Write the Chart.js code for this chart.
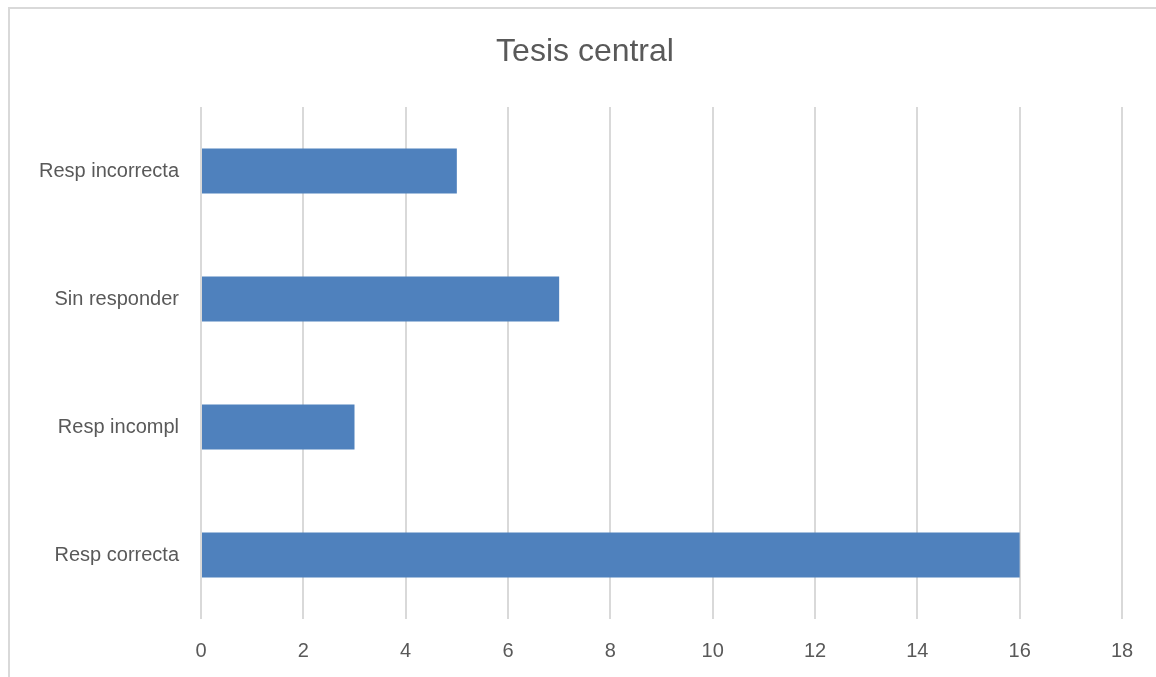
<!DOCTYPE html>
<html>
<head>
<meta charset="utf-8">
<title>Tesis central</title>
<script src="https://cdn.jsdelivr.net/npm/chart.js"></script>
<style>
    html, body { margin: 0; padding: 0; background: #fff; }
    #rahmen {
        position: absolute; left: 0; top: 0; width: 1156px; height: 677px;
        overflow: hidden;
    }
    #linie {
        position: absolute; left: 8px; top: 7px; width: 1200px; height: 700px;
        border-top: 2px solid #d9d9d9; border-left: 2px solid #d9d9d9;
        pointer-events: none;
    }
    canvas { position: absolute; left: 0; top: 0; }
</style>
</head>
<body>
<div id="rahmen">
    <canvas id="tesisChart" width="1156" height="677"></canvas>
    <div id="linie"></div>
</div>
<script>
// Kategorien von oben nach unten, wie im Bild
const kategorien = ["Resp incorrecta", "Sin responder", "Resp incompl", "Resp correcta"];
const werte = [5, 7, 3, 16];
const achsenTicks = [0, 2, 4, 6, 8, 10, 12, 14, 16, 18];
const titelText = "Tesis central";

const schrift = "'Liberation Sans', 'DejaVu Sans', sans-serif";
const grau = "#595959";

// Titel etwas rechts der Mitte, wie im Original (über den ganzen Rahmen zentriert)
const titelPlugin = {
    id: 'titelPlugin',
    afterDraw(chart) {
        const c = chart.ctx;
        c.save();
        c.fillStyle = grau;
        c.font = "32px " + schrift;
        c.textAlign = 'center';
        c.textBaseline = 'middle';
        c.fillText(titelText, (chart.width + 14) / 2, 52);
        c.restore();
    }
};

const ctx = document.getElementById('tesisChart').getContext('2d');
new Chart(ctx, {
    type: 'bar',
    data: {
        labels: kategorien,
        datasets: [{
            label: titelText,
            data: werte,
            backgroundColor: '#4f81bd',
            borderWidth: 0,
            categoryPercentage: 0.35,
            barPercentage: 1
        }]
    },
    options: {
        indexAxis: 'y',
        responsive: false,
        animation: false,
        layout: { padding: { left: 0, right: 34, top: 107, bottom: 0 } },
        plugins: {
            legend: { display: false },
            tooltip: { enabled: false },
            title: { display: false }
        },
        scales: {
            x: {
                min: 0,
                max: 18,
                afterBuildTicks: (scale) => {
                    scale.ticks = achsenTicks.map(v => ({ value: v }));
                },
                afterFit: (scale) => { scale.height = 58; },
                grid: { color: '#d9d9d9', lineWidth: 2, drawTicks: false },
                border: { display: false },
                ticks: {
                    color: grau,
                    padding: 20,
                    font: { family: schrift, size: 20 }
                }
            },
            y: {
                afterFit: (scale) => { scale.width = 201; },
                grid: { display: false, drawTicks: false },
                border: { display: false },
                ticks: {
                    color: grau,
                    padding: 22,
                    font: { family: schrift, size: 20 }
                }
            }
        }
    },
    plugins: [titelPlugin]
});
</script>
</body>
</html>
